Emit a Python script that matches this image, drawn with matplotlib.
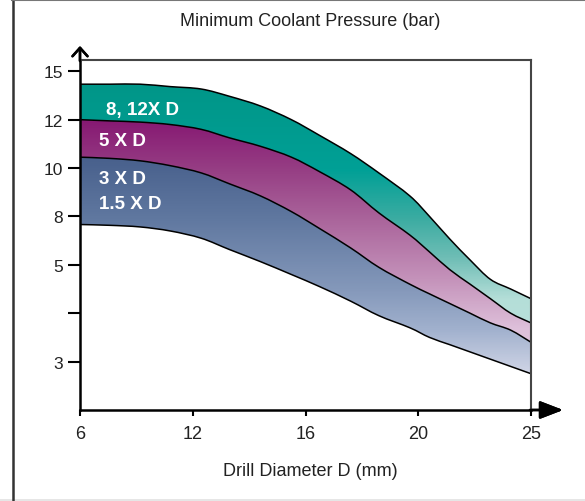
import numpy as np
import matplotlib
matplotlib.use("Agg")
import matplotlib.pyplot as plt
from matplotlib.colors import LinearSegmentedColormap
from matplotlib.lines import Line2D
from matplotlib.patches import Rectangle, PathPatch
from matplotlib.path import Path
from matplotlib.transforms import IdentityTransform

# ─── Data ───────────────────────────────────────────────────────────────────

diameter = [6, 7.6, 9.2, 10.8, 12.3, 13.3, 14.4, 15.5, 16.5, 17.6,
            18.6, 19.7, 20.5, 21.4, 22.3, 23.2, 24.1, 25]

# band boundaries, bar
top_8_12xd = [14.2, 14.2, 14.2, 14.05, 13.9, 13.45, 12.85, 12.0, 11.35, 10.6,
              9.8, 8.85, 8.0, 6.6, 5.3, 4.7, 4.5, 4.3]
top_5xd = [12.0, 11.95, 11.9, 11.8, 11.6, 11.25, 10.9, 10.45, 9.85, 9.1,
           8.15, 6.85, 5.8, 4.9, 4.6, 4.3, 4.0, 3.8]
top_3xd = [10.45, 10.4, 10.3, 10.1, 9.8, 9.35, 8.85, 8.2, 7.25, 6.05,
           4.95, 4.6, 4.4, 4.2, 4.0, 3.8, 3.65, 3.4]
bottom_1_5xd = [7.5, 7.45, 7.35, 7.1, 6.65, 5.95, 5.2, 4.8, 4.55, 4.25,
                3.95, 3.7, 3.5, 3.35, 3.2, 3.05, 2.9, 2.75]

x_ticks = [6, 12, 16, 20, 25]
y_ticks = [3, 4, 5, 8, 10, 12, 15]
y_tick_labels = ["3", "", "5", "8", "10", "12", "15"]

band_labels = ["8, 12X D", "5 X D", "3 X D", "1.5 X D"]

# ─── Axis scales: ticks are evenly spaced, values are not ───────────────────

x_vals_ext = [0] + x_ticks + [40]
x_pos_ext = [-1, 0, 1, 2, 3, 4, 7]
y_vals_ext = [0] + y_ticks + [30]
y_pos_ext = [-3, 0, 1, 2, 3, 4, 5, 6, 11]


def x_fwd(v):
    return np.interp(v, x_vals_ext, x_pos_ext)


def x_inv(p):
    return np.interp(p, x_pos_ext, x_vals_ext)


def y_fwd(v):
    return np.interp(v, y_vals_ext, y_pos_ext)


def y_inv(p):
    return np.interp(p, y_pos_ext, y_vals_ext)


W, H = 585, 502


def fx(px):
    return px / W


def fy(py):
    return 1 - py / H


fig = plt.figure(figsize=(W / 100, H / 100), dpi=100)
plt.rcParams['font.family'] = ['Liberation Sans', 'DejaVu Sans']

ax_l, ax_r, ax_t, ax_b = 80, 531, 61, 411
ax = fig.add_axes([fx(ax_l), fy(ax_b), fx(ax_r - ax_l), (ax_b - ax_t) / H])
ax.set_xscale('function', functions=(x_fwd, x_inv))
ax.set_yscale('function', functions=(y_fwd, y_inv))
ax.set_xlim(6, 25)
ax.set_ylim(2, 15.7)


def rgb(*c):
    return tuple(v / 255 for v in c)


def smooth_curve(values):
    """Points go through the axes scale, then a Catmull-Rom bezier joins them."""
    pts = ax.transData.transform(np.column_stack([diameter, values]))
    P = np.vstack([pts[0], pts, pts[-1]])
    verts, codes = [pts[0]], [Path.MOVETO]
    for i in range(1, len(pts)):
        p0, p1, p2, p3 = P[i - 1], P[i], P[i + 1], P[i + 2]
        verts += [p1 + (p2 - p0) / 6, p2 - (p3 - p1) / 6, p2]
        codes += [Path.CURVE4] * 3
    return verts, codes


def band_path(upper, lower):
    v1, c1 = smooth_curve(upper)
    v2, c2 = smooth_curve(lower)
    # walk the lower curve backwards
    v2r = v2[::-1]
    c2r = [Path.LINETO] + [Path.CURVE4] * (len(v2r) - 1)
    verts = v1 + v2r + [v1[0]]
    codes = c1 + c2r + [Path.CLOSEPOLY]
    return Path(np.array(verts), codes)


def gradient_band(upper, lower, stops):
    cmap = LinearSegmentedColormap.from_list('band', stops)
    grad = np.linspace(0, 1, 400).reshape(-1, 1)
    im = ax.imshow(grad, cmap=cmap, extent=[0, 1, 0, 1], transform=ax.transAxes,
                   aspect='auto', origin='upper', zorder=1,
                   interpolation='bilinear')
    im.set_clip_path(band_path(upper, lower), transform=IdentityTransform())


def frac(py):
    return (py - ax_t) / (ax_b - ax_t)


teal_stops = [(0, rgb(0, 148, 134)), (frac(85), rgb(0, 150, 136)),
              (frac(170), rgb(0, 160, 150)), (frac(220), rgb(60, 172, 162)),
              (frac(260), rgb(112, 190, 182)), (frac(300), rgb(180, 222, 216)),
              (1, rgb(200, 232, 228))]
magenta_stops = [(0, rgb(130, 20, 110)), (frac(120), rgb(134, 24, 114)),
                 (frac(170), rgb(150, 62, 132)), (frac(220), rgb(170, 100, 155)),
                 (frac(280), rgb(196, 146, 186)), (frac(330), rgb(222, 192, 218)),
                 (1, rgb(232, 210, 228))]
blue_stops = [(0, rgb(70, 94, 138)), (frac(158), rgb(72, 96, 140)),
              (frac(220), rgb(96, 120, 160)), (frac(290), rgb(132, 152, 186)),
              (frac(330), rgb(160, 176, 205)), (frac(375), rgb(208, 213, 230)),
              (1, rgb(215, 219, 234))]

gradient_band(top_8_12xd, top_5xd, teal_stops)
gradient_band(top_5xd, top_3xd, magenta_stops)
gradient_band(top_3xd, bottom_1_5xd, blue_stops)
ax.set_xlim(6, 25)
ax.set_ylim(2, 15.7)

for curve in (top_8_12xd, top_5xd, top_3xd, bottom_1_5xd):
    verts, codes = smooth_curve(curve)
    ax.add_artist(PathPatch(Path(np.array(verts), codes), fill=False,
                            edgecolor='black', lw=1.1, zorder=3,
                            transform=IdentityTransform()))

ax.set_xticks(x_ticks)
ax.set_xticklabels([str(v) for v in x_ticks])
ax.set_yticks(y_ticks)
ax.set_yticklabels(y_tick_labels)
ax.minorticks_off()
ax.tick_params(axis='y', length=8.5, width=1.5, pad=4, labelsize=12.5,
               colors='black', labelcolor='#222222')
ax.tick_params(axis='x', length=4.5, width=1.5, pad=6, labelsize=13,
               colors='black', labelcolor='#222222')

for side in ('left', 'bottom'):
    ax.spines[side].set_linewidth(1.8)
    ax.spines[side].set_color('black')
for side in ('top', 'right'):
    ax.spines[side].set_linewidth(1.5)
    ax.spines[side].set_color('#454545')
for s in ax.spines.values():
    s.set_zorder(4)

# band labels
label_x = [7.4, 7.0, 7.0, 7.0]
label_y = [12.6, 11.14, 9.58, 8.54]
for txt, lx, ly in zip(band_labels, label_x, label_y):
    ax.text(lx, ly, txt, color='white', fontsize=13.5, fontweight='bold',
            ha='left', va='center', zorder=5)

# axis arrows
fig.add_artist(plt.annotate(
    '', xy=(fx(563), fy(ax_b)), xytext=(fx(ax_r - 1), fy(ax_b)),
    xycoords='figure fraction', textcoords='figure fraction',
    arrowprops=dict(arrowstyle='-|>,head_length=0.7,head_width=0.27',
                    color='black', lw=1.8, mutation_scale=20,
                    shrinkA=0, shrinkB=0)))
fig.add_artist(plt.annotate(
    '', xy=(fx(ax_l), fy(47)), xytext=(fx(ax_l), fy(ax_t + 1)),
    xycoords='figure fraction', textcoords='figure fraction',
    arrowprops=dict(arrowstyle='->,head_length=0.3,head_width=0.27',
                    color='black', lw=1.8, mutation_scale=20,
                    shrinkA=0, shrinkB=0)))

fig.text(fx(310), fy(22), "Minimum Coolant Pressure (bar)", ha='center',
         va='center', fontsize=13, color='#222222')
fig.text(fx(310), fy(472), "Drill Diameter D (mm)", ha='center',
         va='center', fontsize=13, color='#222222')

# frame around the picture
fig.add_artist(Line2D([fx(12.5), fx(12.5)], [0, 1], color='#333333', lw=1.8))
fig.add_artist(Line2D([fx(12), 1], [fy(1), fy(1)], color='#777777', lw=1.5))
fig.add_artist(Rectangle((0, 0), 1, 2 / H, transform=fig.transFigure,
                         facecolor='#e6e6e6', edgecolor='none'))

fig.savefig("out.png", dpi=100)
